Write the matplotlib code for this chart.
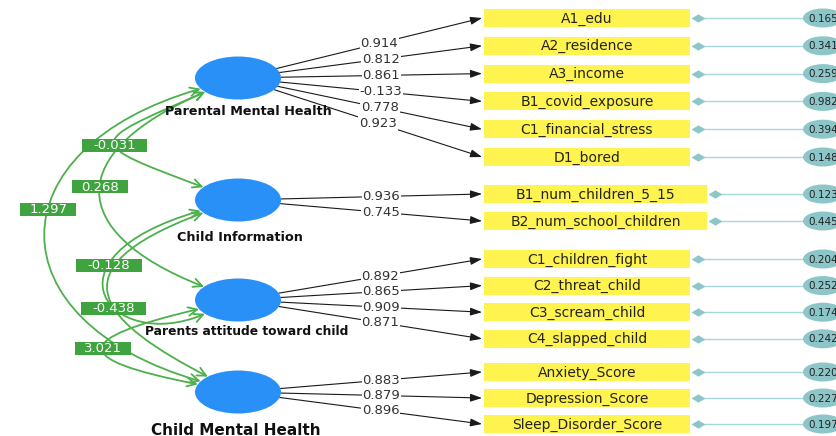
import matplotlib
matplotlib.use("Agg")
import matplotlib.pyplot as plt
from matplotlib.patches import Ellipse, FancyArrowPatch, Rectangle, ArrowStyle
from matplotlib.path import Path
import numpy as np

# ---------------- data ----------------
latents = ["Parental Mental Health", "Child Information",
           "Parents attitude toward child", "Child Mental Health"]
indicators = [
    ["A1_edu", "A2_residence", "A3_income", "B1_covid_exposure",
     "C1_financial_stress", "D1_bored"],
    ["B1_num_children_5_15", "B2_num_school_children"],
    ["C1_children_fight", "C2_threat_child", "C3_scream_child", "C4_slapped_child"],
    ["Anxiety_Score", "Depression_Score", "Sleep_Disorder_Score"],
]
loadings = [
    [0.914, 0.812, 0.861, -0.133, 0.778, 0.923],
    [0.936, 0.745],
    [0.892, 0.865, 0.909, 0.871],
    [0.883, 0.879, 0.896],
]
errors = [
    [0.165, 0.341, 0.259, 0.982, 0.394, 0.148],
    [0.123, 0.445],
    [0.204, 0.252, 0.174, 0.242],
    [0.220, 0.227, 0.197],
]
cov_pairs = [(0, 1), (0, 2), (0, 3), (1, 2), (1, 3), (2, 3)]
cov_values = [-0.031, 0.268, 1.297, -0.128, -0.438, 3.021]

# ---------------- layout (pixel space) ----------------
W, H = 837, 436
LAT_X = 238
LAT_Y = [78, 200, 300, 392]
LAT_W, LAT_H = 86, 43
LAT_LABEL_DX = [10, 2, 9, -2]
LAT_LABEL_DY = [33, 37, 31, 38]
LAT_LABEL_FS = [9.2, 9.2, 8.8, 11.0]
GROUP_TOP = [18, 194, 259, 372]
GROUP_STEP = [27.8, 27.0, 26.6, 26.0]
BOX_X0 = 484
BOX_W = [206, 223, 206, 206]
BOX_H = 18
ERR_X, ERR_W, ERR_H = 823, 40, 19
# covariance curve shape: control-point offsets from start / end anchors, label height
COV_C1 = [(-120, 52), (-140, 60), (-208, 60), (-166, 48), (-156, 58), (-128, 30)]
COV_C2 = [(-120, -45), (-140, -55), (-208, -60), (-94, 40), (-102, -53), (-128, -25)]
COV_LABEL_Y = [145, 187, 209, 265, 308, 348]

BLUE = "#2990f7"
YELLOW = "#fff34f"
TEAL = "#8dc6c9"
TEAL_LINE = "#a9d6d9"
GREEN = "#4cb04c"
GREEN_BOX = "#3fa33f"

fig = plt.figure(figsize=(W / 100, H / 100), dpi=100)
ax = fig.add_axes([0, 0, 1, 1])
ax.set_xlim(0, W)
ax.set_ylim(H, 0)
ax.axis("off")


def boundary(cx, cy, tx, ty, w=LAT_W, h=LAT_H):
    dx, dy = tx - cx, ty - cy
    t = 1.0 / np.sqrt((dx / (w / 2)) ** 2 + (dy / (h / 2)) ** 2)
    return np.array([cx + dx * t, cy + dy * t])


def cubic(P0, C1, C2, P3, t):
    t = np.asarray(t)[:, None]
    return ((1 - t) ** 3) * P0 + 3 * ((1 - t) ** 2) * t * C1 + 3 * (1 - t) * t ** 2 * C2 + t ** 3 * P3


# latent ellipses + labels
for i, name in enumerate(latents):
    ax.add_patch(Ellipse((LAT_X, LAT_Y[i]), LAT_W, LAT_H, fc=BLUE, ec="none", zorder=5))
    ax.text(LAT_X + LAT_LABEL_DX[i], LAT_Y[i] + LAT_LABEL_DY[i], name,
            ha="center", va="center", fontsize=LAT_LABEL_FS[i],
            fontweight="bold", color="#111111", zorder=6)

# indicators, loadings, errors
diamond = [(-1, 0), (0, 0.6), (1, 0), (0, -0.6), (-1, 0)]
for g, names in enumerate(indicators):
    for k, name in enumerate(names):
        y = GROUP_TOP[g] + GROUP_STEP[g] * k
        bw = BOX_W[g]
        ax.add_patch(Rectangle((BOX_X0, y - BOX_H / 2), bw, BOX_H,
                               fc=YELLOW, ec="none", zorder=3))
        ax.text(BOX_X0 + bw / 2, y + 0.5, name, ha="center", va="center",
                fontsize=10, color="#222222", zorder=4)
        # loading arrow
        tx = BOX_X0 - 2
        sx, sy = boundary(LAT_X, LAT_Y[g], tx, y)
        ax.annotate("", xy=(tx, y), xytext=(sx, sy),
                    arrowprops=dict(arrowstyle=ArrowStyle("-|>", head_length=0.5, head_width=0.17),
                                    mutation_scale=14, color="#1a1a1a", lw=0.8,
                                    shrinkA=0, shrinkB=0), zorder=2)
        ax.text((sx + tx) / 2, (sy + y) / 2, f"{loadings[g][k]:.3f}",
                ha="center", va="center", fontsize=9.5, color="#333333", zorder=4,
                bbox=dict(fc="white", ec="none", pad=0.6))
        # error term
        dx = BOX_X0 + bw + 8
        ax.plot([dx, ERR_X - ERR_W / 2], [y, y], color=TEAL_LINE, lw=1.0, zorder=2)
        ax.plot([dx], [y], marker=diamond, ms=10, color=TEAL, mec="none", zorder=3)
        ax.add_patch(Ellipse((ERR_X, y), ERR_W, ERR_H, fc=TEAL, ec="none", zorder=3))
        ax.text(ERR_X, y + 0.5, f"{errors[g][k]:.3f}", ha="center", va="center",
                fontsize=7.5, color="#222222", zorder=4)

# covariance curves (cubic Bezier on the left side)
for n, ((i, j), val) in enumerate(zip(cov_pairs, cov_values)):
    o1, o2, ly = np.array(COV_C1[n], float), np.array(COV_C2[n], float), COV_LABEL_Y[n]
    P0 = np.array([LAT_X - LAT_W / 2, LAT_Y[i]], float)
    P3 = np.array([LAT_X - LAT_W / 2, LAT_Y[j]], float)
    for _ in range(3):
        P0 = boundary(LAT_X, LAT_Y[i], *(P0 + o1))
        P3 = boundary(LAT_X, LAT_Y[j], *(P3 + o2))
    C1, C2 = P0 + o1, P3 + o2
    path = Path([P0, C1, C2, P3], [Path.MOVETO, Path.CURVE4, Path.CURVE4, Path.CURVE4])
    arr = FancyArrowPatch(path=path,
                          arrowstyle=ArrowStyle("<->", head_length=0.45, head_width=0.22),
                          mutation_scale=14, color=GREEN, lw=1.3, zorder=1)
    ax.add_patch(arr)
    # label: first point of the curve at the wanted height
    ts = np.linspace(0, 1, 1201)
    pts = cubic(P0, C1, C2, P3, ts)
    diff = np.abs(pts[:, 1] - ly)
    k = int(np.argmax(diff < 1.0)) if np.any(diff < 1.0) else int(np.argmin(diff))
    lx = pts[k, 0]
    txt = f"{val:.3f}"
    bw = 9.6 * len(txt) + 8
    ax.add_patch(Rectangle((lx - bw / 2, ly - 6.5), bw, 13, fc=GREEN_BOX, ec="none", zorder=3))
    ax.text(lx, ly + 0.5, txt, ha="center", va="center", fontsize=9.5,
            color="white", zorder=4)

fig.savefig("out.png", dpi=100)
